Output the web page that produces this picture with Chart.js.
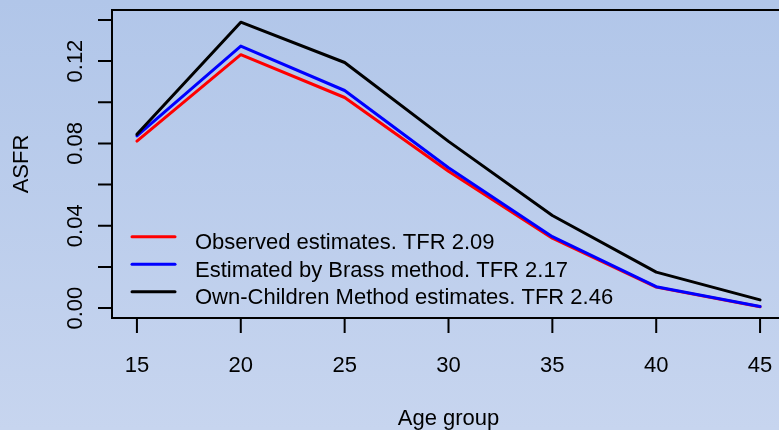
<!DOCTYPE html>
<html>
<head>
<meta charset="utf-8">
<script src="https://cdn.jsdelivr.net/npm/chart.js@4.4.0/dist/chart.umd.min.js"></script>
<style>
  html, body { margin: 0; padding: 0; overflow: hidden; }
  body {
    width: 779px; height: 430px;
    background: linear-gradient(to bottom, #b1c6e9, #c7d5ef);
  }
  #wrap { position: relative; width: 785px; height: 430px; }
</style>
</head>
<body>
<div id="wrap"><canvas id="asfr-canvas" width="785" height="430"></canvas></div>
<script>
const ages = [15, 20, 25, 30, 35, 40, 45];
const observed = [0.0811, 0.1231, 0.1023, 0.0665, 0.0340, 0.0102, 0.0007];
const brass = [0.0837, 0.1273, 0.1057, 0.0682, 0.0347, 0.0104, 0.0008];
const ownChildren = [0.0844, 0.1389, 0.1193, 0.0810, 0.0450, 0.0175, 0.0040];

const seriesLabels = [
  'Observed estimates. TFR 2.09',
  'Estimated by Brass method. TFR 2.17',
  'Own-Children Method estimates. TFR 2.46'
];
const xTicks = [15, 20, 25, 30, 35, 40, 45];
const yTicks = [0, 0.02, 0.04, 0.06, 0.08, 0.10, 0.12, 0.14];
const yLabels = ['0.00', '0.04', '0.08', '0.12'];

const font = '22px "Liberation Sans", Arial, sans-serif';

const toPoints = (vals) => ages.map((a, i) => ({ x: a, y: vals[i] }));

// R-style box, axes, titles and legend
const rAxes = {
  id: 'rAxes',
  afterDraw(chart) {
    const ctx = chart.ctx;
    const area = chart.chartArea;
    const xs = chart.scales.x;
    const ys = chart.scales.y;

    ctx.save();
    ctx.strokeStyle = '#000';
    ctx.fillStyle = '#000';
    ctx.lineWidth = 2;
    ctx.lineCap = 'butt';
    ctx.strokeRect(area.left, area.top, area.right - area.left + 4, area.bottom - area.top);

    ctx.font = font;

    // x axis
    ctx.beginPath();
    xTicks.forEach(v => {
      const px = xs.getPixelForValue(v);
      ctx.moveTo(px, area.bottom);
      ctx.lineTo(px, area.bottom + 15);
    });
    ctx.stroke();
    ctx.textAlign = 'center';
    ctx.textBaseline = 'alphabetic';
    xTicks.forEach(v => {
      ctx.fillText(String(v), xs.getPixelForValue(v), 372);
    });
    ctx.fillText('Age group', (area.left + area.right) / 2, 425);

    // y axis
    ctx.beginPath();
    yTicks.forEach(v => {
      const py = ys.getPixelForValue(v);
      ctx.moveTo(area.left, py);
      ctx.lineTo(area.left - 14, py);
    });
    ctx.stroke();
    yLabels.forEach(lbl => {
      const py = ys.getPixelForValue(parseFloat(lbl));
      ctx.save();
      ctx.translate(82, py);
      ctx.rotate(-Math.PI / 2);
      ctx.fillText(lbl, 0, 0);
      ctx.restore();
    });
    ctx.save();
    ctx.translate(28, (area.top + area.bottom) / 2);
    ctx.rotate(-Math.PI / 2);
    ctx.fillText('ASFR', 0, 0);
    ctx.restore();

    // legend
    ctx.textAlign = 'left';
    ctx.lineWidth = 3;
    ctx.lineCap = 'round';
    chart.data.datasets.forEach((ds, i) => {
      const ly = 236.7 + i * 27.5;
      ctx.strokeStyle = ds.borderColor;
      ctx.beginPath();
      ctx.moveTo(132, ly);
      ctx.lineTo(175, ly);
      ctx.stroke();
      ctx.fillStyle = '#000';
      ctx.fillText(ds.label, 195, ly + 12.6);
    });
    ctx.restore();
  }
};

new Chart(document.querySelector('#asfr-canvas'), {
  type: 'line',
  data: {
    datasets: [{
      label: seriesLabels[0],
      data: toPoints(observed),
      borderColor: '#ff0000',
      order: 3
    }, {
      label: seriesLabels[1],
      data: toPoints(brass),
      borderColor: '#0000ff',
      order: 2
    }, {
      label: seriesLabels[2],
      data: toPoints(ownChildren),
      borderColor: '#000000',
      order: 1
    }]
  },
  options: {
    responsive: false,
    animation: false,
    devicePixelRatio: 1,
    layout: { padding: { top: 10, left: 0, right: 0, bottom: 0 } },
    elements: {
      line: { borderWidth: 3, tension: 0, borderCapStyle: 'round', borderJoinStyle: 'round' },
      point: { radius: 0 }
    },
    plugins: {
      legend: { display: false },
      tooltip: { enabled: false }
    },
    scales: {
      x: {
        type: 'linear',
        min: 13.8,
        max: 46.2,
        ticks: { display: false },
        grid: { display: false },
        border: { display: false },
        afterFit: (s) => { s.height = 112; }
      },
      y: {
        min: -0.0048,
        max: 0.1448,
        ticks: { display: false },
        grid: { display: false },
        border: { display: false },
        afterFit: (s) => { s.width = 112; }
      }
    }
  },
  plugins: [rAxes]
});
</script>
</body>
</html>
